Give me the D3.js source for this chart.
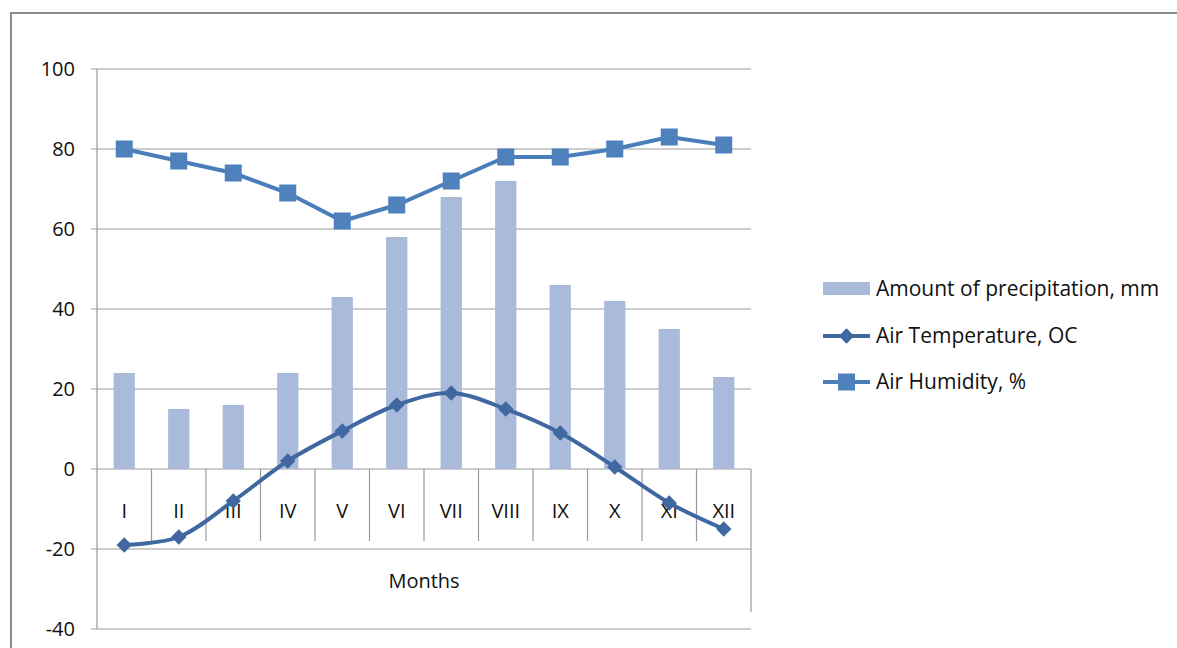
<!DOCTYPE html>
<html lang="en">
<head>
<meta charset="UTF-8">
<title>Climate chart</title>
<style>
  body { margin: 0; background: #fff; }
  text { font-family: "Open Sans", "Liberation Sans", sans-serif; fill: #111; }
</style>
</head>
<body>
<div id="chart"></div>
<script src="https://d3js.org/d3.v7.min.js"></script>
<script>
// data
const months = ["I", "II", "III", "IV", "V", "VI", "VII", "VIII", "IX", "X", "XI", "XII"];
const precipitation = [24, 15, 16, 24, 43, 58, 68, 72, 46, 42, 35, 23];
const temperature = [-19, -17, -8, 2, 9.5, 16, 19, 15, 9, 0.5, -8.5, -15];
const humidity = [80, 77, 74, 69, 62, 66, 72, 78, 78, 80, 83, 81];
const yTicks = [-40, -20, 0, 20, 40, 60, 80, 100];
const legendLabels = ["Amount of precipitation, mm", "Air Temperature, OC", "Air Humidity, %"];

const W = 1177, H = 648;
const plotL = 97, plotR = 751, plotT = 69, plotB = 629;

const svg = d3.select("#chart").append("svg")
    .attr("width", W)
    .attr("height", H);

// outer frame (only top and left edge visible)
svg.append("path")
    .attr("d", `M11,${H} V13 H${W}`)
    .attr("fill", "none")
    .attr("stroke", "#8c8c8c")
    .attr("stroke-width", 2);

const x = d3.scaleBand().domain(months).range([plotL, plotR]).padding(0);
const y = d3.scaleLinear().domain([-40, 100]).range([plotB, plotT]);
const cx = d => x(d) + x.bandwidth() / 2;

// gridlines + tick marks
svg.append("g").selectAll("line")
    .data(yTicks)
    .join("line")
    .attr("x1", plotL - 6).attr("x2", plotR)
    .attr("y1", d => y(d)).attr("y2", d => y(d))
    .attr("stroke", "#9a9a9a")
    .attr("stroke-width", 1.2);

// y labels
svg.append("g").selectAll("text")
    .data(yTicks)
    .join("text")
    .attr("x", 75)
    .attr("y", d => y(d))
    .attr("dy", "0.35em")
    .attr("text-anchor", "end")
    .style("font-size", "20px")
    .text(d => d);

// y axis line
svg.append("line")
    .attr("x1", plotL).attr("x2", plotL)
    .attr("y1", plotT).attr("y2", plotB)
    .attr("stroke", "#9a9a9a").attr("stroke-width", 1.2);

// bars
const barW = x.bandwidth() * 0.39;
svg.append("g").selectAll("rect")
    .data(precipitation)
    .join("rect")
    .attr("x", (d, i) => cx(months[i]) - barW / 2)
    .attr("width", barW)
    .attr("y", d => y(d))
    .attr("height", d => y(0) - y(d))
    .attr("fill", "#a9badb");

// category dividers (multi-level axis)
const divs = months.slice(1).map(m => x(m));
svg.append("g").selectAll("line")
    .data(divs)
    .join("line")
    .attr("x1", d => d).attr("x2", d => d)
    .attr("y1", y(0)).attr("y2", y(0) + 72)
    .attr("stroke", "#9a9a9a").attr("stroke-width", 1.2);
svg.append("line")
    .attr("x1", plotR).attr("x2", plotR)
    .attr("y1", y(0)).attr("y2", 612)
    .attr("stroke", "#9a9a9a").attr("stroke-width", 1.2);

svg.append("g").selectAll("text")
    .data(months)
    .join("text")
    .attr("x", d => cx(d))
    .attr("y", y(0) + 42)
    .attr("dy", "0.35em")
    .attr("text-anchor", "middle")
    .style("font-size", "20px")
    .text(d => d);

svg.append("text")
    .attr("x", (plotL + plotR) / 2)
    .attr("y", 581)
    .attr("dy", "0.35em")
    .attr("text-anchor", "middle")
    .style("font-size", "20px")
    .text("Months");

// temperature (smoothed line, diamonds)
const tempColor = "#3f67a0";
const tempLine = d3.line()
    .x((d, i) => cx(months[i]))
    .y(d => y(d))
    .curve(d3.curveCatmullRom.alpha(0.5));
svg.append("path")
    .datum(temperature)
    .attr("d", tempLine)
    .attr("fill", "none")
    .attr("stroke", tempColor)
    .attr("stroke-width", 4);

const diamond = d3.symbol().type(d3.symbolDiamond2).size(150);
svg.append("g").selectAll("path")
    .data(temperature)
    .join("path")
    .attr("transform", (d, i) => `translate(${cx(months[i])},${y(d)})`)
    .attr("d", diamond)
    .attr("fill", tempColor);

// humidity (straight line, squares)
const humColor = "#4a7ebb";
const humLine = d3.line()
    .x((d, i) => cx(months[i]))
    .y(d => y(d));
svg.append("path")
    .datum(humidity)
    .attr("d", humLine)
    .attr("fill", "none")
    .attr("stroke", humColor)
    .attr("stroke-width", 4);

const sq = 17;
svg.append("g").selectAll("rect")
    .data(humidity)
    .join("rect")
    .attr("x", (d, i) => cx(months[i]) - sq / 2)
    .attr("y", d => y(d) - sq / 2)
    .attr("width", sq).attr("height", sq)
    .attr("fill", "#4f81bd");

// legend
const lg = svg.append("g");
const ly = [289, 336, 382];
lg.append("rect")
    .attr("x", 823).attr("y", ly[0] - 7)
    .attr("width", 47).attr("height", 13)
    .attr("fill", "#a9badb");
lg.append("line")
    .attr("x1", 823).attr("x2", 870).attr("y1", ly[1]).attr("y2", ly[1])
    .attr("stroke", tempColor).attr("stroke-width", 4);
lg.append("path")
    .attr("transform", `translate(846.5,${ly[1]})`)
    .attr("d", diamond)
    .attr("fill", tempColor);
lg.append("line")
    .attr("x1", 823).attr("x2", 870).attr("y1", ly[2]).attr("y2", ly[2])
    .attr("stroke", humColor).attr("stroke-width", 4);
lg.append("rect")
    .attr("x", 846.5 - sq / 2).attr("y", ly[2] - sq / 2)
    .attr("width", sq).attr("height", sq)
    .attr("fill", "#4f81bd");

lg.selectAll("text")
    .data(legendLabels)
    .join("text")
    .attr("x", 876)
    .attr("y", (d, i) => ly[i])
    .attr("dy", "0.35em")
    .style("font-size", "21px")
    .text(d => d);
</script>
</body>
</html>
